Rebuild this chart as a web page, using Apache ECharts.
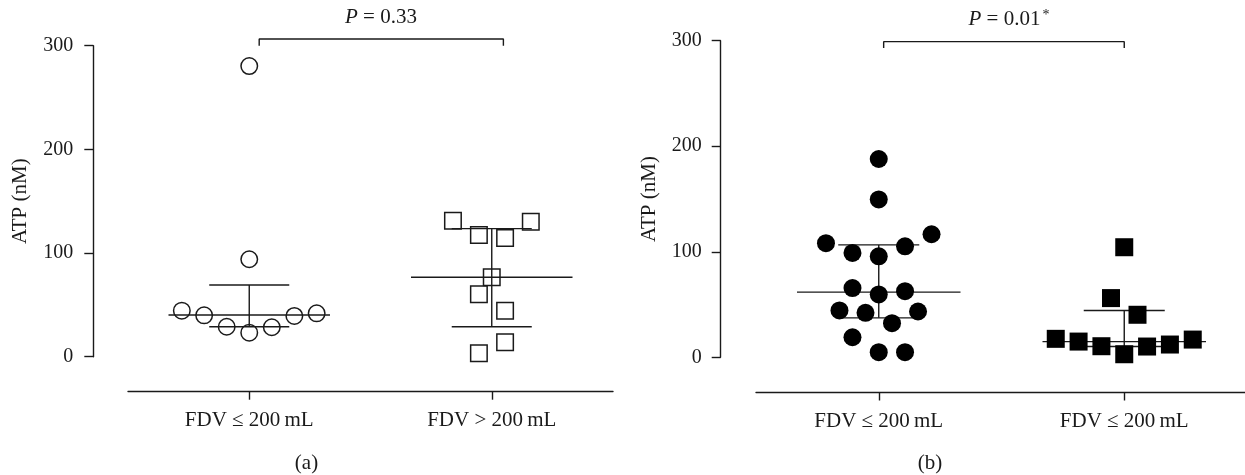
<!DOCTYPE html>
<html>
<head>
<meta charset="utf-8">
<script src="https://cdn.jsdelivr.net/npm/echarts@6/dist/echarts.min.js"></script>
<style>
html,body{margin:0;padding:0;background:#fff;}
#chart{width:1245px;height:475px;}
</style>
</head>
<body>
<div id="chart"></div>
<script>
// ---------- data ----------
const categoriesA = ['FDV \u2264 200\u2009mL', 'FDV > 200\u2009mL'];
const categoriesB = ['FDV \u2264 200\u2009mL', 'FDV \u2264 200\u2009mL'];
const yTicks = [0, 100, 200, 300];
const pValues = ['0.33', '0.01'];
const panelLabels = ['(a)', '(b)'];

// panel (a) group 1: open circles
const a1Values = [280.4, 94, 44.4, 39.9, 28.9, 23.2, 28.4, 39.3, 41.8];
const a1Jitter = [0, 0, -0.278, -0.186, -0.093, 0, 0.093, 0.186, 0.278];
// panel (a) group 2: open squares
const a2Values = [131.2, 117.4, 114.5, 130.2, 76.6, 60.2, 44.4, 13.9, 3.3];
const a2Jitter = [-0.16, -0.053, 0.055, 0.161, 0, -0.053, 0.055, 0.055, -0.053];
// panel (b) group 1: filled circles
const b1Values = [187.9, 149.6, 108.1, 116.6, 98.9, 95.7, 105.2, 65.6, 59.6, 62.7, 44.4, 42.2, 43.4, 32.3, 19, 4.8, 4.8];
const b1Jitter = [0, 0, -0.215, 0.215, -0.107, 0, 0.107, -0.107, 0, 0.107, -0.16, -0.054, 0.16, 0.054, -0.107, 0, 0.107];
// panel (b) group 2: filled squares
const b2Values = [104.3, 56.1, 40.3, 17.5, 14.9, 10.5, 2.9, 10.2, 12.1, 16.8];
const b2Jitter = [0, -0.054, 0.054, -0.279, -0.186, -0.093, 0, 0.093, 0.186, 0.279];

// median and interquartile range per group
const aMedian = [40.2, 76.6], aQ1 = [28.9, 28.9], aQ3 = [69.2, 123.5];
const bMedian = [61.8, 14.9], bQ1 = [37.4, 10.2], bQ3 = [106.5, 44.4];

// ---------- layout / style ----------
const FONT = '"Liberation Serif", "DejaVu Serif", "Times New Roman", serif';
const INK = '#1a1a1a';
const LW = 1.4;
const MED_HALF = 0.333, CAP_HALF = 0.165;
const bracketA = { x: [1.041, 2.048], y: [300, 306.5] };
const bracketB = { x: [1.02, 2.0], y: [293.1, 299.1] };

function pts(values, jitter, cat) {
  return values.map((v, i) => [cat + jitter[i], v]);
}
function seg(idx, data, extra) {
  return Object.assign({
    type: 'line', xAxisIndex: idx, yAxisIndex: idx, data: data,
    symbol: 'none', showSymbol: false, silent: true, animation: false,
    lineStyle: { color: INK, width: LW }, z: 2
  }, extra || {});
}
function summary(idx, med, q1, q3) {
  const out = [];
  for (let g = 0; g < 2; g++) {
    const c = g + 1;
    out.push(seg(idx, [[c - MED_HALF, med[g]], [c + MED_HALF, med[g]]]));
    out.push(seg(idx, [[c - CAP_HALF, q3[g]], [c + CAP_HALF, q3[g]]]));
    out.push(seg(idx, [[c - CAP_HALF, q1[g]], [c + CAP_HALF, q1[g]]]));
    out.push(seg(idx, [[c, q1[g]], [c, q3[g]]]));
  }
  return out;
}
function bracket(idx, b) {
  return seg(idx, [[b.x[0], b.y[0]], [b.x[0], b.y[1]], [b.x[1], b.y[1]], [b.x[1], b.y[0]]], { clip: false });
}
function xAxis(idx, cats, offset) {
  return {
    type: 'value', gridIndex: idx, min: 0.5, max: 2.5, offset: offset,
    splitLine: { show: false },
    axisLine: { show: true, onZero: false, lineStyle: { color: INK, width: LW } },
    axisTick: { show: true, customValues: [1, 2], length: 8, lineStyle: { color: INK, width: LW } },
    axisLabel: {
      show: true, customValues: [1, 2], margin: 18.5,
      formatter: v => cats[Math.round(v) - 1] || '',
      fontFamily: FONT, fontSize: 21, color: INK
    }
  };
}
function yAxis(idx, offset, gap, margin) {
  return {
    type: 'value', gridIndex: idx, min: yTicks[0], max: yTicks[yTicks.length - 1],
    interval: yTicks[1] - yTicks[0], offset: offset,
    name: 'ATP (nM)', nameLocation: 'middle', nameGap: gap,
    nameTextStyle: { fontFamily: FONT, fontSize: 21, color: INK },
    splitLine: { show: false },
    axisLine: { show: true, onZero: false, lineStyle: { color: INK, width: LW } },
    axisTick: { show: true, length: 9, lineStyle: { color: INK, width: LW } },
    axisLabel: { margin: margin, fontFamily: FONT, fontSize: 20, color: INK }
  };
}
function scatter(idx, data, symbol, filled, size) {
  return {
    type: 'scatter', xAxisIndex: idx, yAxisIndex: idx, data: data,
    symbol: symbol, symbolSize: size, silent: true, animation: false, z: 4,
    itemStyle: filled
      ? { color: '#000', borderColor: '#000', borderWidth: 0, opacity: 1 }
      : { color: 'rgba(255,255,255,0)', borderColor: INK, borderWidth: 1.5, opacity: 1 }
  };
}
function pText(x, y, p, star) {
  return {
    type: 'text', x: x, y: y, silent: true,
    style: {
      text: '{i|P} = ' + p + (star ? '{s|*}' : ''),
      fontFamily: FONT, fontSize: 21, fill: INK,
      align: 'center', verticalAlign: 'middle',
      rich: {
        i: { fontFamily: FONT, fontSize: 21, fontStyle: 'italic', fill: INK },
        s: { fontFamily: FONT, fontSize: 14, fill: INK, verticalAlign: 'top', lineHeight: 12, padding: [0, 0, 0, 2] }
      }
    }
  };
}
function plainText(x, y, t) {
  return {
    type: 'text', x: x, y: y, silent: true,
    style: { text: t, fontFamily: FONT, fontSize: 21, fill: INK, align: 'center', verticalAlign: 'middle' }
  };
}

const chart = echarts.init(document.getElementById('chart'), null, { renderer: 'canvas' });
chart.setOption({
  backgroundColor: '#fff',
  animation: false,
  grid: [
    { left: 128, top: 45.7, width: 485, height: 311, containLabel: false, outerBoundsMode: 'none' },
    { left: 756, top: 40.7, width: 491, height: 316.6, containLabel: false, outerBoundsMode: 'none' }
  ],
  xAxis: [xAxis(0, categoriesA, 35), xAxis(1, categoriesB, 35.2)],
  yAxis: [yAxis(0, 34.7, 62, 20), yAxis(1, 35.3, 60.5, 19)],
  series: [].concat(
    summary(0, aMedian, aQ1, aQ3),
    summary(1, bMedian, bQ1, bQ3),
    [bracket(0, bracketA), bracket(1, bracketB)],
    [
      scatter(0, pts(a1Values, a1Jitter, 1), 'circle', false, 16.5),
      scatter(0, pts(a2Values, a2Jitter, 2), 'rect', false, 16.5),
      scatter(1, pts(b1Values, b1Jitter, 1), 'circle', true, 18),
      scatter(1, pts(b2Values, b2Jitter, 2), 'rect', true, 18)
    ]
  ),
  graphic: [
    pText(381, 17, pValues[0], false),
    pText(1009, 19, pValues[1], true),
    plainText(306.5, 463, panelLabels[0]),
    plainText(930, 463, panelLabels[1])
  ]
});
</script>
</body>
</html>
